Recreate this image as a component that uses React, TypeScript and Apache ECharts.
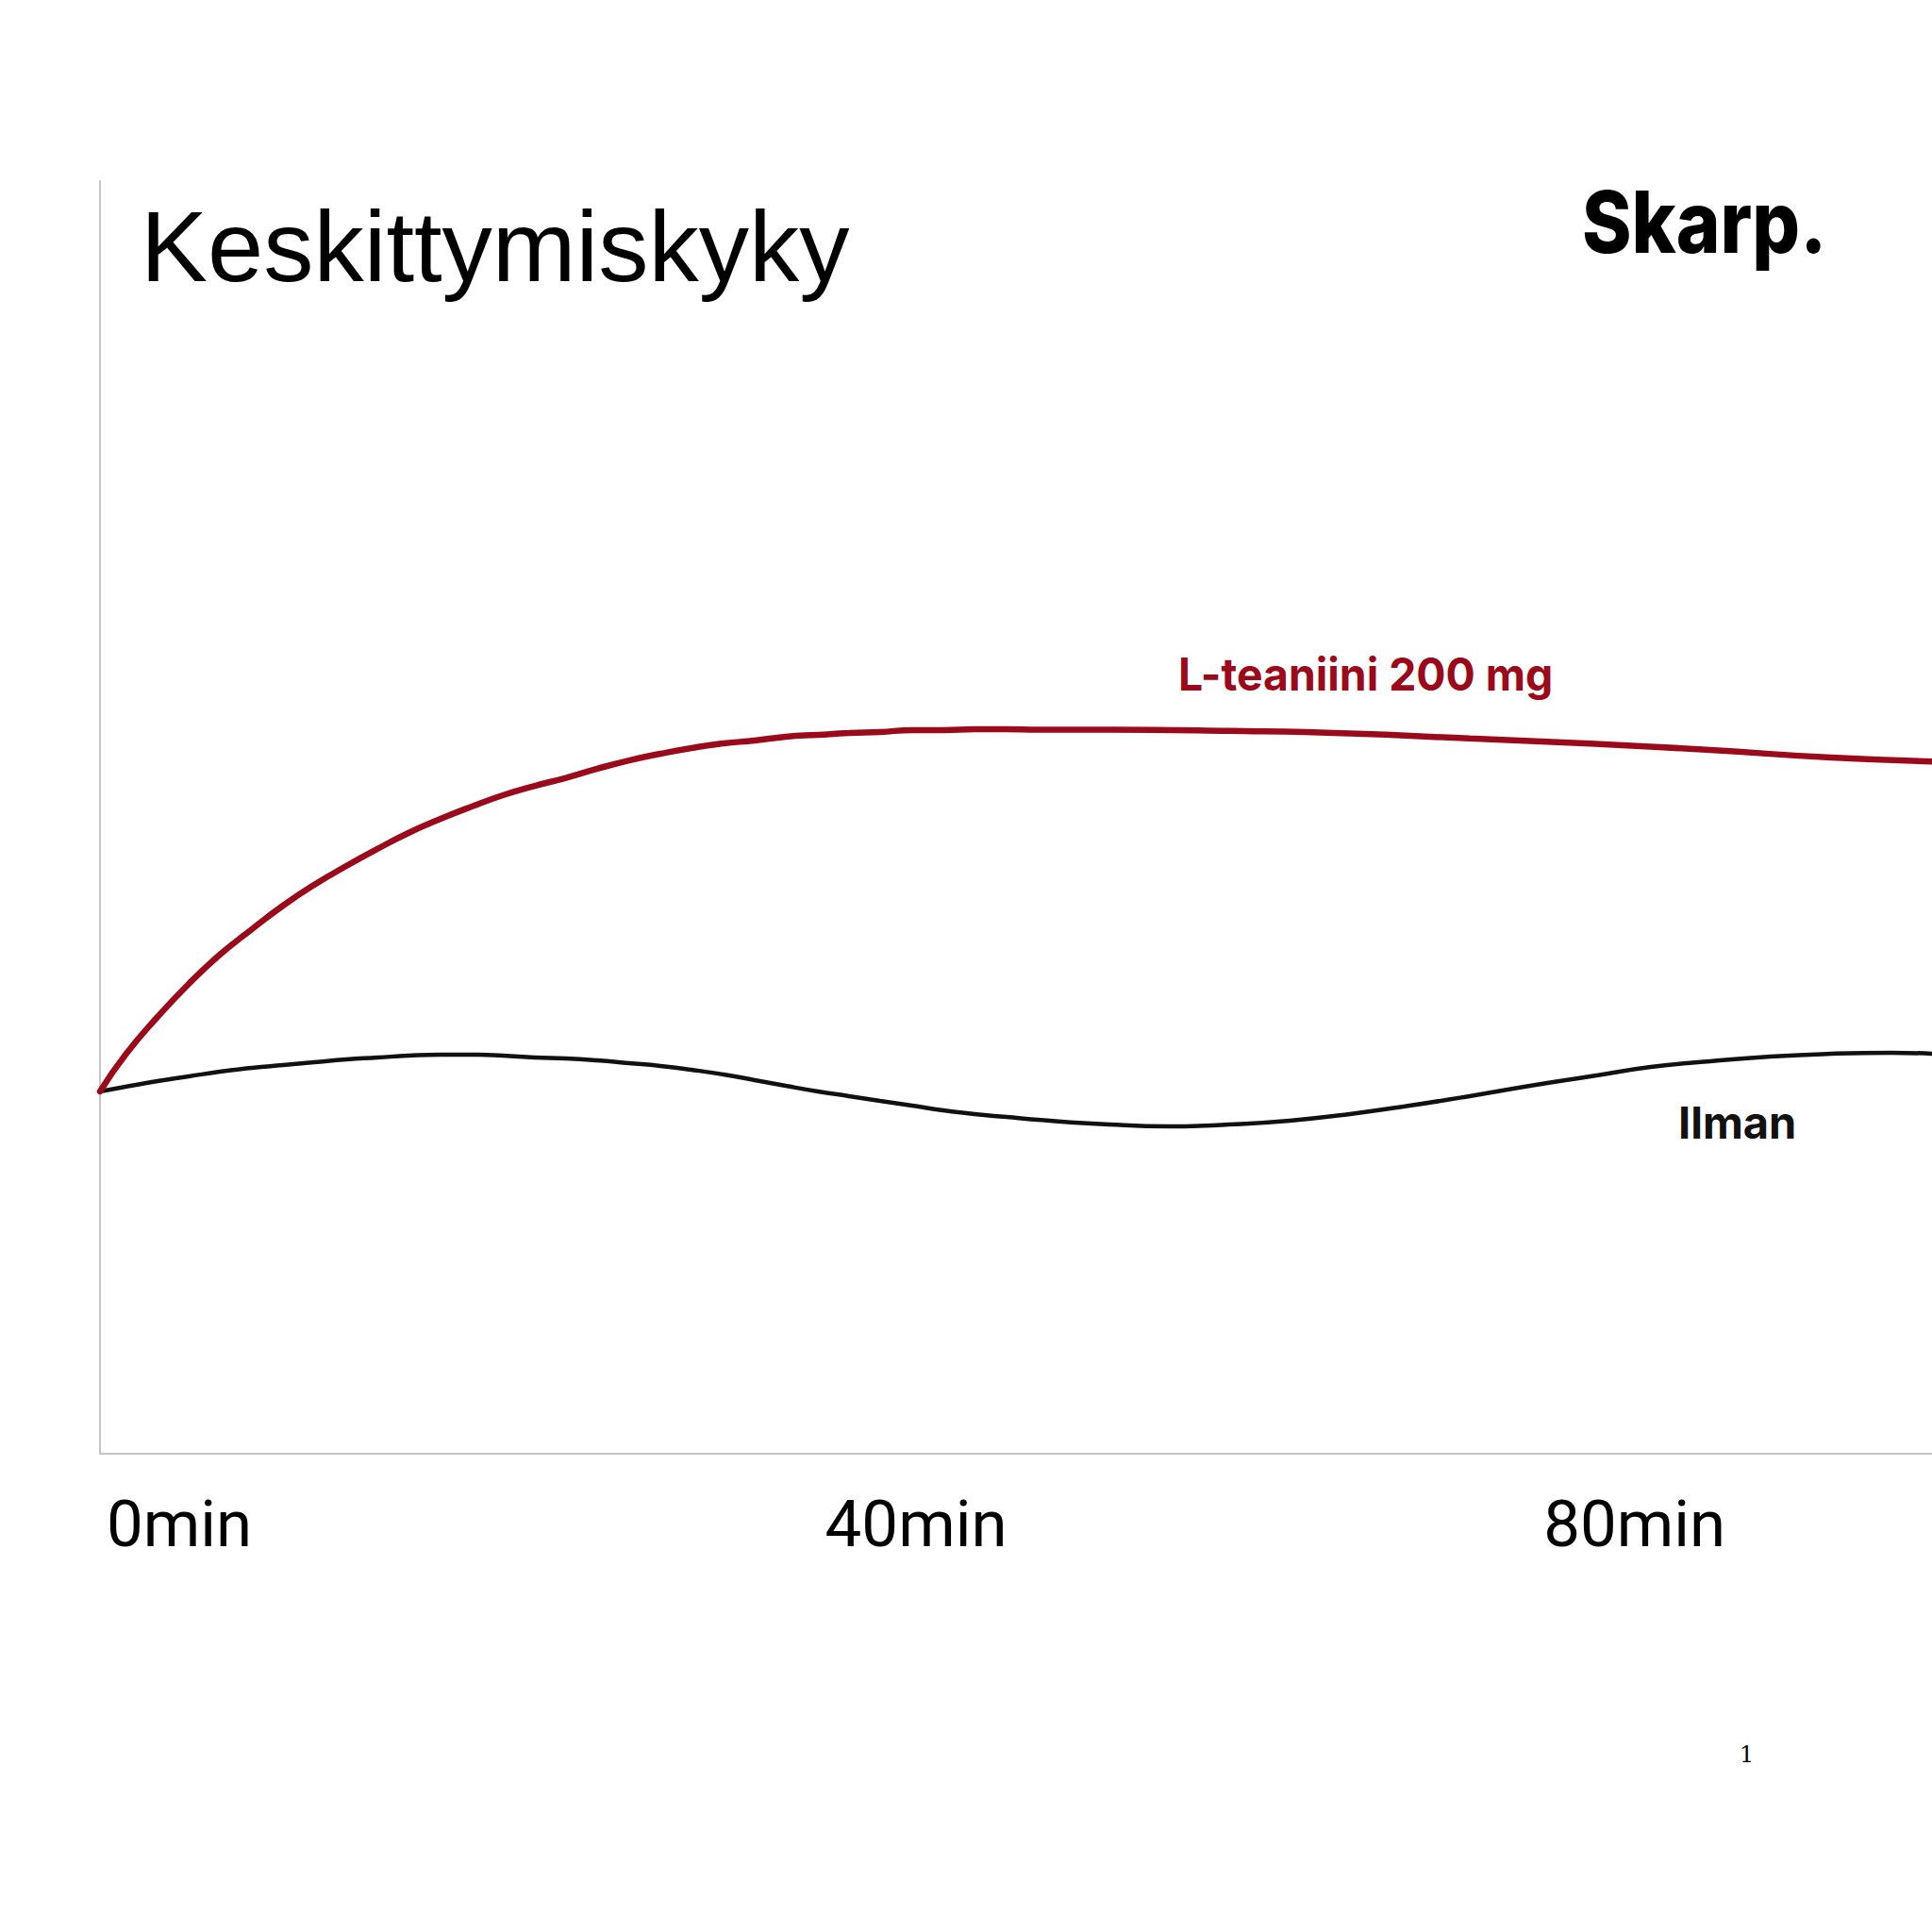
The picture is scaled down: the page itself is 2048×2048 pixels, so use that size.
import React, { useEffect, useRef } from "react";
import * as echarts from "echarts";

// minutes on x, focus level (0-100) on y
const redMinutes = [0, 1.42, 3.2, 4.94, 6.67, 8.46, 10.19, 11.92, 13.71, 15.44, 17.17, 18.96, 20.69, 22.43, 24.21, 25.95, 27.68, 29.46, 31.2, 32.93, 34.72, 36.45, 38.18, 39.97, 41.7, 43.43, 45.22, 46.95, 48.69, 50.47, 52.21, 56.2, 62.87, 69.59, 76.26, 82.98, 89.65, 96.38, 102];
const redValues = [28.47, 31.36, 34.32, 36.92, 39.21, 41.22, 43.07, 44.7, 46.18, 47.52, 48.78, 49.89, 50.85, 51.74, 52.48, 53.11, 53.82, 54.48, 55.0, 55.45, 55.82, 56.04, 56.34, 56.49, 56.63, 56.71, 56.86, 56.86, 56.93, 56.93, 56.9, 56.9, 56.8, 56.6, 56.2, 55.8, 55.3, 54.7, 54.4];

const blackMinutes = [0, 1.42, 3.2, 4.94, 6.67, 8.46, 10.19, 11.92, 13.71, 15.44, 17.17, 18.96, 20.69, 22.43, 24.21, 25.95, 27.68, 29.46, 31.2, 32.93, 34.72, 36.45, 38.18, 39.97, 41.7, 43.43, 45.22, 46.95, 48.69, 50.47, 52.21, 56.2, 59.5, 62.87, 66.23, 69.59, 72.9, 76.26, 79.62, 82.98, 86.34, 89.65, 93.0, 96.38, 99.74, 102];
const blackValues = [28.47, 28.84, 29.28, 29.65, 30.02, 30.32, 30.54, 30.76, 30.99, 31.13, 31.28, 31.36, 31.36, 31.28, 31.13, 31.06, 30.91, 30.69, 30.47, 30.17, 29.8, 29.36, 28.91, 28.47, 28.1, 27.72, 27.35, 26.98, 26.69, 26.46, 26.24, 25.87, 25.72, 25.87, 26.17, 26.69, 27.35, 28.1, 28.91, 29.65, 30.39, 30.84, 31.21, 31.43, 31.51, 31.43];

const tickUnit = "min";
const titleText = "Keskittymiskyky";
const brandText = "Skarp.";
const redName = "L-teaniini 200 mg";
const blackName = "Ilman";
const footnote = "1";

const RED = "#9b0a1b";
const BLACK = "#111111";
const AXIS = "#c3c5cb";

export default function App() {
  const ref = useRef<HTMLDivElement>(null);
  useEffect(() => {
    if (!ref.current) return;
    const chart = echarts.init(ref.current, null, { renderer: "svg" });
    chart.setOption({
      animation: false,
      backgroundColor: "#ffffff",
      grid: {
        left: 106,
        right: 0,
        top: 192,
        bottom: 507,
        containLabel: false,
        outerBoundsMode: "none",
      },
      xAxis: {
        type: "value",
        min: 0,
        max: 102,
        interval: 40,
        axisLine: { show: true, lineStyle: { color: AXIS, width: 2 } },
        axisTick: { show: false },
        splitLine: { show: false },
        axisLabel: {
          show: true,
          showMaxLabel: false,
          align: "left",
          margin: 40,
          padding: [0, 0, 0, 7],
          fontFamily: "Roboto",
          fontSize: 69,
          color: "#000000",
          formatter: (v: number) => `${v}${tickUnit}`,
        },
      },
      yAxis: {
        type: "value",
        min: 0,
        max: 100,
        axisLine: { show: true, lineStyle: { color: AXIS, width: 2 } },
        axisTick: { show: false },
        splitLine: { show: false },
        axisLabel: { show: false },
      },
      series: [
        {
          name: blackName,
          type: "line",
          data: blackMinutes.map((m, i) => [m, blackValues[i]]),
          smooth: 0.5,
          symbol: "none",
          lineStyle: { color: BLACK, width: 4.5, cap: "round" },
          z: 2,
        },
        {
          name: redName,
          type: "line",
          data: redMinutes.map((m, i) => [m, redValues[i]]),
          smooth: 0.5,
          symbol: "none",
          lineStyle: { color: RED, width: 6.5, cap: "round" },
          z: 3,
        },
      ],
      graphic: [
        {
          type: "text",
          x: 149,
          y: 261,
          style: {
            text: titleText,
            fontFamily: "Liberation Sans",
            fontSize: 106.5,
            fill: "#000000",
            verticalAlign: "middle",
            align: "left",
          },
        },
        {
          type: "text",
          x: 1677,
          y: 235,
          scaleX: 0.875,
          style: {
            text: brandText,
            fontFamily: "Inter",
            fontWeight: 800,
            fontSize: 91,
            fill: "#000000",
            verticalAlign: "middle",
            align: "left",
          },
        },
        {
          type: "text",
          x: 1249,
          y: 714,
          scaleX: 0.965,
          style: {
            text: redName,
            fontFamily: "Inter",
            fontWeight: 700,
            fontSize: 48,
            fill: RED,
            verticalAlign: "middle",
            align: "left",
          },
        },
        {
          type: "text",
          x: 1779,
          y: 1189,
          style: {
            text: blackName,
            fontFamily: "Inter",
            fontWeight: 700,
            fontSize: 47,
            fill: BLACK,
            verticalAlign: "middle",
            align: "left",
          },
        },
        {
          type: "text",
          x: 1844,
          y: 1860,
          style: {
            text: footnote,
            fontFamily: "DejaVu Serif",
            fontSize: 24,
            fill: "#000000",
            verticalAlign: "middle",
            align: "left",
          },
        },
      ],
    });
    return () => chart.dispose();
  }, []);
  return (
    <div
      ref={ref}
      style={{ position: "absolute", left: 0, top: 0, width: 2048, height: 2048 }}
    />
  );
}
